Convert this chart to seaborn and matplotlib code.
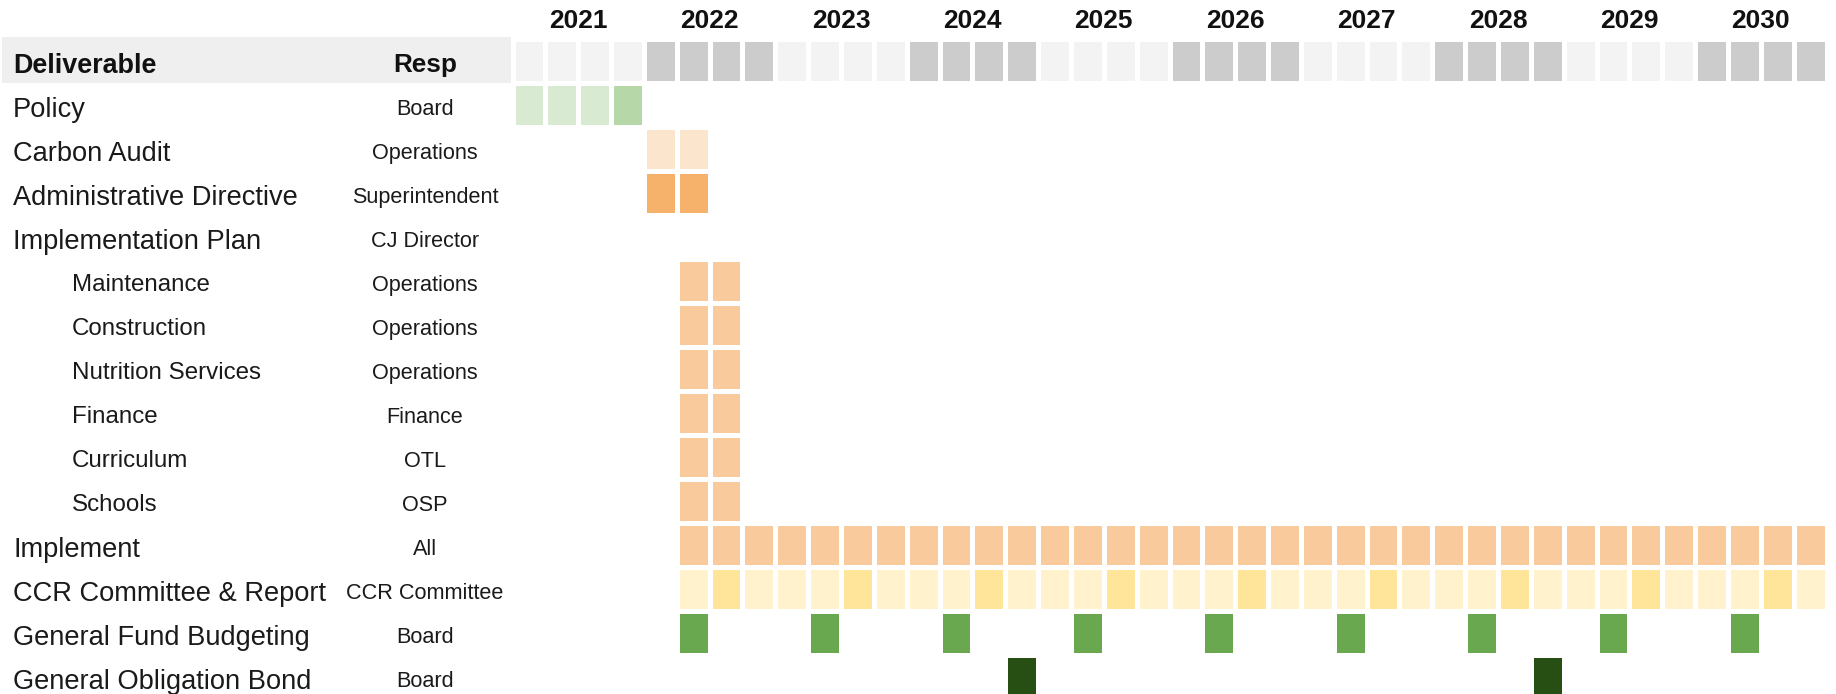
import numpy as np
import pandas as pd
import matplotlib
matplotlib.use("Agg")
import matplotlib.pyplot as plt
import matplotlib.transforms as mtransforms
from matplotlib.colors import ListedColormap
from matplotlib.patches import Rectangle
import seaborn as sns

# --- datos del cronograma ---
years = [2021, 2022, 2023, 2024, 2025, 2026, 2027, 2028, 2029, 2030]
quarters = [f"{y}Q{q}" for y in years for q in (1, 2, 3, 4)]

deliverables = ["Policy", "Carbon Audit", "Administrative Directive", "Implementation Plan",
                "Maintenance", "Construction", "Nutrition Services", "Finance", "Curriculum",
                "Schools", "Implement", "CCR Committee & Report", "General Fund Budgeting",
                "General Obligation Bond"]
responsible = ["Board", "Operations", "Superintendent", "CJ Director", "Operations", "Operations",
               "Operations", "Finance", "OTL", "OSP", "All", "CCR Committee", "Board", "Board"]
sub_items = ["Maintenance", "Construction", "Nutrition Services", "Finance", "Curriculum", "Schools"]

policy_q = ["2021Q1", "2021Q2", "2021Q3"]
policy_adopt_q = ["2021Q4"]
audit_q = ["2022Q1", "2022Q2"]
directive_q = ["2022Q1", "2022Q2"]
plan_q = ["2022Q2", "2022Q3"]
implement_from = "2022Q2"
ccr_from = "2022Q2"
ccr_report_q = ["2022Q3", "2023Q3", "2024Q3", "2025Q3", "2026Q3", "2027Q3", "2028Q3", "2029Q3", "2030Q3"]
budget_q = ["2022Q2", "2023Q2", "2024Q2", "2025Q2", "2026Q2", "2027Q2", "2028Q2", "2029Q2", "2030Q2"]
bond_q = ["2024Q4", "2028Q4"]

# codigo de color -> color
colors = ["#f3f3f3", "#cccccc", "#d9ead3", "#b6d7a8", "#fce5cd", "#f6b26b",
          "#f9cb9c", "#fff2cc", "#ffe599", "#6aa84f", "#274e13"]

sns.set_theme(style="white")
plt.rcParams["font.family"] = ["Liberation Sans", "DejaVu Sans"]

# --- construir la matriz (fila 0 = cabecera de años) ---
rows = ["header"] + deliverables
grid = pd.DataFrame(np.nan, index=rows, columns=quarters)
for i, y in enumerate(years):
    grid.loc["header", [f"{y}Q{q}" for q in (1, 2, 3, 4)]] = 0 if i % 2 == 0 else 1
grid.loc["Policy", policy_q] = 2
grid.loc["Policy", policy_adopt_q] = 3
grid.loc["Carbon Audit", audit_q] = 4
grid.loc["Administrative Directive", directive_q] = 5
for name in sub_items:
    grid.loc[name, plan_q] = 6
grid.loc["Implement", implement_from:] = 6
grid.loc["CCR Committee & Report", ccr_from:] = 7
grid.loc["CCR Committee & Report", ccr_report_q] = 8
grid.loc["General Fund Budgeting", budget_q] = 9
grid.loc["General Obligation Bond", bond_q] = 10

W, H = 1836, 694
fig = plt.figure(figsize=(W / 100, H / 100), dpi=100)
fig.patch.set_facecolor("white")
ax = fig.add_axes([512.5 / W, 1 - 698.5 / H, 1314 / W, 660 / H])

cmap = ListedColormap(colors)
sns.heatmap(grid.astype(float), cmap=cmap, vmin=-0.5, vmax=len(colors) - 0.5, cbar=False,
            linewidths=2.2, linecolor="white", xticklabels=False, yticklabels=False, ax=ax)
ax.set_xlim(0, len(quarters))
ax.set_ylim(len(rows), 0)
ax.set_xlabel("")
ax.set_ylabel("")

# etiquetas de año
for i, y in enumerate(years):
    ax.text(4 * i + 2, -0.4, str(y), ha="center", va="center", fontsize=19,
            fontweight="bold", color="#111111", clip_on=False)

# tabla de la izquierda
trans = mtransforms.blended_transform_factory(fig.transFigure, ax.transData)
fig.add_artist(Rectangle((2 / W, 1 - 83 / H), 509 / W, 46 / H, transform=fig.transFigure,
                         facecolor="#efefef", edgecolor="none", zorder=0))
ax.text(13 / W, 0.55, "Deliverable", transform=trans, ha="left", va="center_baseline",
        fontsize=19.4, fontweight="bold", color="#111111", clip_on=False)
ax.text(425 / W, 0.55, "Resp", transform=trans, ha="center", va="center_baseline",
        fontsize=18.8, fontweight="bold", color="#111111", clip_on=False)

for r, (name, who) in enumerate(zip(deliverables, responsible), start=1):
    if name in sub_items:
        ax.text(72 / W, r + 0.55, name, transform=trans, ha="left", va="center_baseline",
                fontsize=17.4, color="#1a1a1a", clip_on=False)
    else:
        ax.text(13 / W, r + 0.55, name, transform=trans, ha="left", va="center_baseline",
                fontsize=19.6, color="#1a1a1a", clip_on=False)
    ax.text(425 / W, r + 0.55, who, transform=trans, ha="center", va="center_baseline",
            fontsize=15.6, color="#1a1a1a", clip_on=False)

plt.savefig("out.png", dpi=100)
plt.close()
